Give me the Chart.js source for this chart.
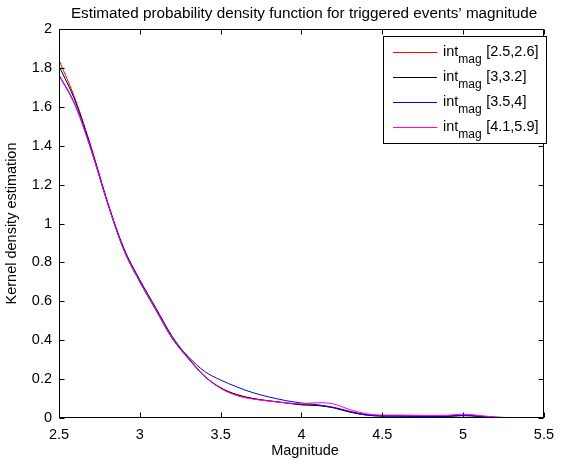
<!DOCTYPE html>
<html>
<head>
<meta charset="utf-8">
<script src="https://cdn.jsdelivr.net/npm/chart.js@4/dist/chart.umd.min.js"></script>
<style>
html,body{margin:0;padding:0;background:#fff;}
#c{display:block;}
</style>
</head>
<body>
<canvas id="c" width="562" height="461"></canvas>
<script>
const magnitudes = [2.5,2.6,2.7,2.8,2.9,3.0,3.1,3.2,3.3,3.4,3.5,3.6,3.7,3.8,3.9,4.0,4.1,4.2,4.3,4.4,4.5,4.6,4.7,4.8,4.9,5.0,5.1,5.2,5.3,5.4,5.5];
const seriesNames = ["[2.5,2.6]", "[3,3.2]", "[3.5,4]", "[4.1,5.9]"];
const kdeRed     = [1.84,1.64,1.39,1.11,0.87,0.70,0.555,0.41,0.305,0.215,0.155,0.12,0.10,0.088,0.078,0.068,0.066,0.055,0.034,0.018,0.012,0.012,0.011,0.010,0.010,0.015,0.010,0.004,0.002,0.001,0.001];
const kdeBlack   = [1.81,1.63,1.385,1.11,0.875,0.71,0.565,0.42,0.31,0.215,0.155,0.12,0.10,0.088,0.078,0.068,0.064,0.053,0.032,0.016,0.010,0.010,0.009,0.008,0.008,0.012,0.008,0.003,0.001,0.001,0.001];
const kdeBlue    = [1.765,1.61,1.375,1.105,0.866,0.70,0.555,0.41,0.315,0.24,0.195,0.16,0.13,0.108,0.09,0.077,0.068,0.052,0.030,0.015,0.010,0.009,0.008,0.008,0.009,0.014,0.009,0.003,0.001,0.001,0.001];
const kdeMagenta = [1.76,1.605,1.375,1.105,0.866,0.70,0.555,0.41,0.305,0.215,0.152,0.115,0.097,0.087,0.078,0.073,0.079,0.072,0.043,0.022,0.015,0.015,0.014,0.013,0.014,0.020,0.013,0.005,0.002,0.001,0.001];
const seriesColors = ["#ff0000", "#000000", "#0000ff", "#ff00ff"];
const xTickValues = [2.5,3,3.5,4,4.5,5,5.5];
const yTickValues = [0,0.2,0.4,0.6,0.8,1,1.2,1.4,1.6,1.8,2];
const titleText = "Estimated probability density function for triggered events\u2019 magnitude";
const xLabel = "Magnitude";
const yLabel = "Kernel density estimation";

const FONT = "Liberation Sans, Arial, Helvetica, sans-serif";
const allSeries = [kdeRed, kdeBlack, kdeBlue, kdeMagenta];

const datasets = allSeries.map((s, i) => ({
  label: "int_mag " + seriesNames[i],
  data: magnitudes.map((m, j) => ({x: m, y: s[j]})),
  borderColor: seriesColors[i],
  backgroundColor: seriesColors[i],
  borderWidth: 1,
  pointRadius: 0,
  cubicInterpolationMode: 'monotone',
  fill: false,
  order: 4 - i
}));

const framePlugin = {
  id: 'frame',
  afterDraw(chart) {
    const ctx = chart.ctx;
    const a = chart.chartArea;
    const xs = chart.scales.x, ys = chart.scales.y;
    const L = Math.round(a.left) + 0.5, R = Math.round(a.right) - 0.5;
    const T = Math.round(a.top) + 0.5, B = Math.round(a.bottom) - 0.5;
    ctx.save();
    ctx.strokeStyle = '#000';
    ctx.lineWidth = 1;
    ctx.beginPath();
    ctx.rect(L, T, R - L, B - T);
    xTickValues.forEach(v => {
      const px = Math.round(xs.getPixelForValue(v)) + 0.5;
      ctx.moveTo(px, B); ctx.lineTo(px, B - 5);
      ctx.moveTo(px, T); ctx.lineTo(px, T + 5);
    });
    yTickValues.forEach(v => {
      const py = Math.round(ys.getPixelForValue(v)) + 0.5;
      ctx.moveTo(L, py); ctx.lineTo(L + 5, py);
      ctx.moveTo(R, py); ctx.lineTo(R - 5, py);
    });
    ctx.stroke();

    // title & axis labels
    ctx.fillStyle = '#000';
    ctx.textAlign = 'center';
    ctx.textBaseline = 'alphabetic';
    ctx.font = '15.25px ' + FONT;
    ctx.fillText(titleText, 304, 17.5);
    ctx.font = '14.5px ' + FONT;
    ctx.fillText(xLabel, 305, 455);
    ctx.save();
    ctx.translate(16, (T + B) / 2);
    ctx.rotate(-Math.PI / 2);
    ctx.fillText(yLabel, 0, 0);
    ctx.restore();

    // legend
    const bx = 383.5, by = 36.5, bw = 163, bh = 107;
    ctx.fillStyle = '#fff';
    ctx.fillRect(bx, by, bw, bh);
    ctx.strokeStyle = '#000';
    ctx.strokeRect(bx, by, bw, bh);
    ctx.textAlign = 'left';
    seriesNames.forEach((name, i) => {
      const ly = 52 + 25 * i;
      ctx.strokeStyle = seriesColors[i];
      ctx.beginPath();
      ctx.moveTo(393, ly + 0.5); ctx.lineTo(437, ly + 0.5);
      ctx.stroke();
      ctx.fillStyle = '#000';
      ctx.font = '14.5px ' + FONT;
      ctx.fillText('int', 443, ly + 4);
      const w1 = ctx.measureText('int').width;
      ctx.font = '12px ' + FONT;
      ctx.fillText('mag', 443 + w1, ly + 11);
      const w2 = ctx.measureText('mag').width;
      ctx.font = '14.5px ' + FONT;
      ctx.fillText(name, 443 + w1 + w2 + 4.5, ly + 4);
    });
    ctx.restore();
  }
};

new Chart(document.getElementById('c'), {
  type: 'line',
  data: { datasets },
  options: {
    responsive: false,
    animation: false,
    layout: { padding: { top: 29, right: 9, left: 0, bottom: 0 } },
    plugins: { legend: { display: false }, title: { display: false }, tooltip: { enabled: false } },
    scales: {
      x: {
        type: 'linear', min: 2.5, max: 5.5,
        border: { display: false },
        grid: { display: false, drawTicks: false },
        afterBuildTicks(scale) { scale.ticks = xTickValues.map(v => ({value: v})); },
        afterFit(scale) { scale.height = 43; },
        ticks: { color: '#000', font: { family: FONT, size: 14.5 }, padding: 8, maxRotation: 0,
                 callback: v => String(v) }
      },
      y: {
        type: 'linear', min: 0, max: 2,
        border: { display: false },
        grid: { display: false, drawTicks: false },
        afterBuildTicks(scale) { scale.ticks = yTickValues.map(v => ({value: v})); },
        afterFit(scale) { scale.width = 59; },
        ticks: { color: '#000', font: { family: FONT, size: 14.5 }, padding: 7,
                 callback: v => String(v) }
      }
    }
  },
  plugins: [framePlugin]
});
</script>
</body>
</html>
